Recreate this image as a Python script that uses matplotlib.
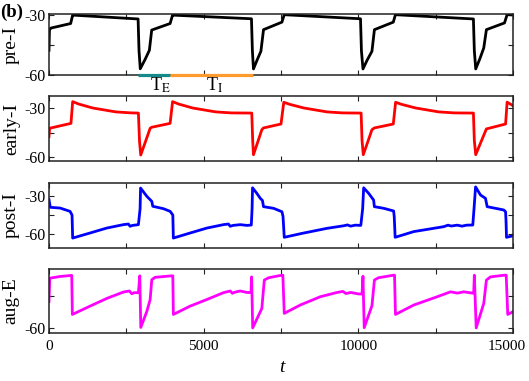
'''
Four stacked voltage traces (pre-I, early-I, post-I, aug-E) over time, panel (b).
'''

import matplotlib
matplotlib.use('Agg')
import matplotlib.pyplot as plt
import matplotlib.transforms as mtransforms

plt.rcParams['font.family'] = ['Liberation Serif', 'DejaVu Serif']
plt.rcParams['mathtext.fontset'] = 'stix'
plt.rcParams['axes.unicode_minus'] = False

# Data #############################################################

pre_I_t = [0, 15, 60, 700, 765, 820,
           2880, 2910, 2950, 3100, 3245, 3320, 3915, 3995, 4050,
           6545, 6575, 6610, 6730, 6850, 6935, 7530, 7605, 7660,
           10070, 10100, 10150, 10290, 10440, 10520, 11130, 11200, 11260,
           13720, 13750, 13795, 13930, 14055, 14140, 14725, 14810, 15000]
pre_I_v = [-47.8, -37.6, -36.6, -34.3, -30.0, -30.1,
           -32.0, -48.0, -57.1, -52.6, -47.8, -37.6, -34.3, -30.0, -30.1,
           -31.9, -48.0, -57.2, -52.6, -48.3, -37.4, -33.6, -29.8, -29.9,
           -31.9, -48.0, -57.2, -52.6, -48.3, -37.4, -33.6, -29.8, -29.9,
           -32.0, -48.0, -57.2, -52.0, -46.6, -37.4, -34.0, -29.8, -30.0]

early_I_t = [0, 20, 710, 765, 965, 1415, 2165, 2665,
             2890, 2925, 2965, 3120, 3270, 3320, 3915, 3995,
             4195, 4645, 5395, 5895,
             6555, 6585, 6610, 6745, 6880, 6935, 7500, 7590,
             7790, 8240, 8990, 9490,
             10090, 10120, 10160, 10300, 10440, 10520, 11130, 11205,
             11405, 11855, 12605, 13105,
             13720, 13750, 13795, 13960, 14140, 14760, 14810, 15000]
early_I_v = [-47.5, -42.4, -39.4, -26.1, -27.6, -30.0, -32.4, -33.0,
             -33.1, -50.0, -58.8, -50.5, -42.4, -41.8, -39.4, -26.1,
             -27.6, -30.0, -32.4, -33.0,
             -33.1, -50.0, -58.6, -51.0, -43.3, -42.2, -39.8, -26.5,
             -27.8, -30.0, -32.4, -33.0,
             -33.1, -50.0, -58.6, -51.0, -43.3, -42.2, -39.8, -26.5,
             -27.8, -30.0, -32.4, -33.0,
             -33.1, -50.0, -58.6, -51.0, -42.8, -39.8, -26.4, -28.6]

post_I_t = [0, 40, 360, 680, 745, 765,
            1327, 1867, 2405, 2567, 2621, 2700, 2890,
            2945, 2960, 3162, 3323, 3355, 3700, 3916, 4003, 4020,
            4563, 5103, 5640, 5800, 5858, 5950, 6181, 6400, 6540,
            6565, 6580, 6720, 6830, 6900, 6935, 7260, 7530, 7565, 7605,
            8180, 8990, 9525, 9650, 9750, 9900, 10080,
            10140, 10172, 10335, 10495, 10518, 10820, 11140, 11160, 11190,
            11790, 12760, 12900, 13000, 13200, 13350, 13500, 13700,
            13740, 13790, 13950, 14110, 14165, 14700, 14760, 14775, 14790, 15000]
post_I_v = [-32.9, -38.9, -39.5, -42.1, -45.0, -63.2,
            -59.2, -55.3, -52.6, -52.1, -53.9, -53.2, -52.6,
            -40.0, -23.7, -30.2, -34.2, -38.1, -40.0, -42.1, -45.0, -63.2,
            -59.2, -55.3, -52.6, -52.1, -53.9, -53.2, -52.6, -53.2, -52.9,
            -40.0, -23.5, -27.9, -31.8, -33.5, -38.4, -39.7, -42.4, -46.0, -62.6,
            -59.5, -55.5, -53.5, -52.8, -53.8, -53.0, -53.2,
            -40.0, -23.5, -27.9, -33.2, -38.4, -39.7, -41.8, -46.0, -62.6,
            -58.1, -54.2, -53.0, -53.7, -53.0, -53.8, -53.0, -52.9,
            -40.0, -22.8, -29.2, -31.8, -38.4, -41.0, -42.4, -50.0, -62.6, -61.4]

aug_E_t = [0, 25, 360, 735, 755,
           1327, 1867, 2405, 2600, 2675, 2750, 2890,
           2935, 2967, 3162, 3269, 3323, 3430, 3970, 4003, 4020,
           4563, 5103, 5640, 5858, 5930, 6000, 6181, 6400, 6530,
           6550, 6585, 6880, 6960, 7100, 7530, 7560, 7605,
           8120, 8770, 9310, 9500, 9600, 9750, 10010, 10120,
           10150, 10190, 10440, 10520, 10650, 11140, 11170, 11200,
           11790, 12550, 12980, 13200, 13410, 13680, 13730,
           13750, 13810, 14055, 14140, 14270, 14725, 14780, 14830, 15000]
aug_E_v = [-47.5, -36.6, -35.8, -35.3, -53.6,
           -49.7, -46.1, -43.1, -42.6, -43.9, -43.4, -43.4,
           -35.5, -59.7, -52.2, -46.7, -37.3, -36.2, -35.5, -35.5, -53.6,
           -49.7, -46.6, -43.4, -42.6, -43.7, -43.2, -42.6, -43.3, -43.3,
           -36.0, -59.9, -50.8, -37.5, -36.4, -35.2, -35.2, -53.1,
           -49.2, -45.3, -43.3, -42.8, -43.8, -43.3, -44.0, -44.0,
           -35.7, -59.8, -49.5, -37.5, -36.4, -35.2, -35.2, -53.6,
           -49.2, -45.3, -43.0, -43.6, -43.0, -43.6, -43.6,
           -35.2, -59.9, -48.4, -37.5, -36.0, -35.2, -35.2, -53.6, -52.3]

# burst (T_E) and interburst (T_I) spans marked under pre-I
te_span = [2870, 3915]
ti_span = [3915, 6590]
te_label_x = 3590
ti_label_x = 5370

traces = [
    ('pre-I', pre_I_t, pre_I_v, 'black', (-60.25, -29.5), [-60, -45, -30], ['-60', '', '-30']),
    ('early-I', early_I_t, early_I_v, '#ff0000', (-62.45, -22.65), [-60, -45, -30], ['-60', '', '-30']),
    ('post-I', post_I_t, post_I_v, '#0000ff', (-71.05, -19.7), [-60, -45, -30], ['-60', '', '-30']),
    ('aug-E', aug_E_t, aug_E_v, '#ff00ff', (-62.3, -32.3), [-60, -45], ['-60', '']),
]

# Figure ####################################

W, H = 529, 381
fig = plt.figure(figsize=(W / 100, H / 100), dpi=100)

# panel pixel extents (top, bottom)
panel_px = [(14, 75), (96, 161), (183, 248), (269, 333)]
x_left, x_right = 49, 513

xticks = [0, 2500, 5000, 7500, 10000, 12500, 15000]
xticklabels = ['0', '', '5000', '', '10000', '', '15000']

axes = []
for i, (name, t, v, color, ylim, yt, ytl) in enumerate(traces):
    top, bot = panel_px[i]
    ax = fig.add_axes([x_left / W, 1 - bot / H, (x_right - x_left) / W, (bot - top) / H])
    ax.plot(t, v, color=color, lw=2.0, solid_joinstyle='round')
    ax.set_xlim(0, 15000)
    ax.set_ylim(*ylim)
    ax.set_yticks(yt)
    ax.set_yticklabels(ytl)
    ax.set_xticks(xticks)
    if i == len(traces) - 1:
        ax.set_xticklabels(xticklabels)
    else:
        ax.set_xticklabels([])
    ax.tick_params(direction='in', top=True, right=True, length=3.5, width=0.8,
                   labelsize=11.5, color='#222222')
    ax.tick_params(axis='y', pad=2.5)
    ax.tick_params(axis='x', pad=5, labelsize=11)
    for s in ax.spines.values():
        s.set_linewidth(1.1)
        s.set_color('#222222')
    ax.set_ylabel(name, fontsize=14)
    ax.yaxis.set_label_coords(-0.063, 0.5)
    axes.append(ax)

# keep the last x label inside the figure
last_lbl = axes[-1].get_xticklabels()[-1]
last_lbl.set_transform(last_lbl.get_transform() +
                       mtransforms.ScaledTranslation(-6 / 100, 0, fig.dpi_scale_trans))

# T_E / T_I bars on the pre-I panel
ax1 = axes[0]
trans = mtransforms.blended_transform_factory(ax1.transData, ax1.transAxes)
ax1.plot(te_span, [0, 0], color='#168a8a', lw=2.3, transform=trans, clip_on=False, zorder=5,
         solid_capstyle='butt')
ax1.plot(ti_span, [0, 0], color='#ff9a2e', lw=2.3, transform=trans, clip_on=False, zorder=5,
         solid_capstyle='butt')
ax1.text(te_label_x, -0.17, r'T$_{\mathrm{E}}$', transform=trans, ha='center', va='center', fontsize=13)
ax1.text(ti_label_x, -0.17, r'T$_{\mathrm{I}}$', transform=trans, ha='center', va='center', fontsize=13)

fig.text(0.0, 1 - 12 / H, '(b)', fontsize=13.5, fontweight='bold', ha='left', va='center')
fig.text(282 / W, 1 - 367 / H, 't', fontsize=14, style='italic', ha='center', va='center')

fig.savefig('out.png', dpi=100)
